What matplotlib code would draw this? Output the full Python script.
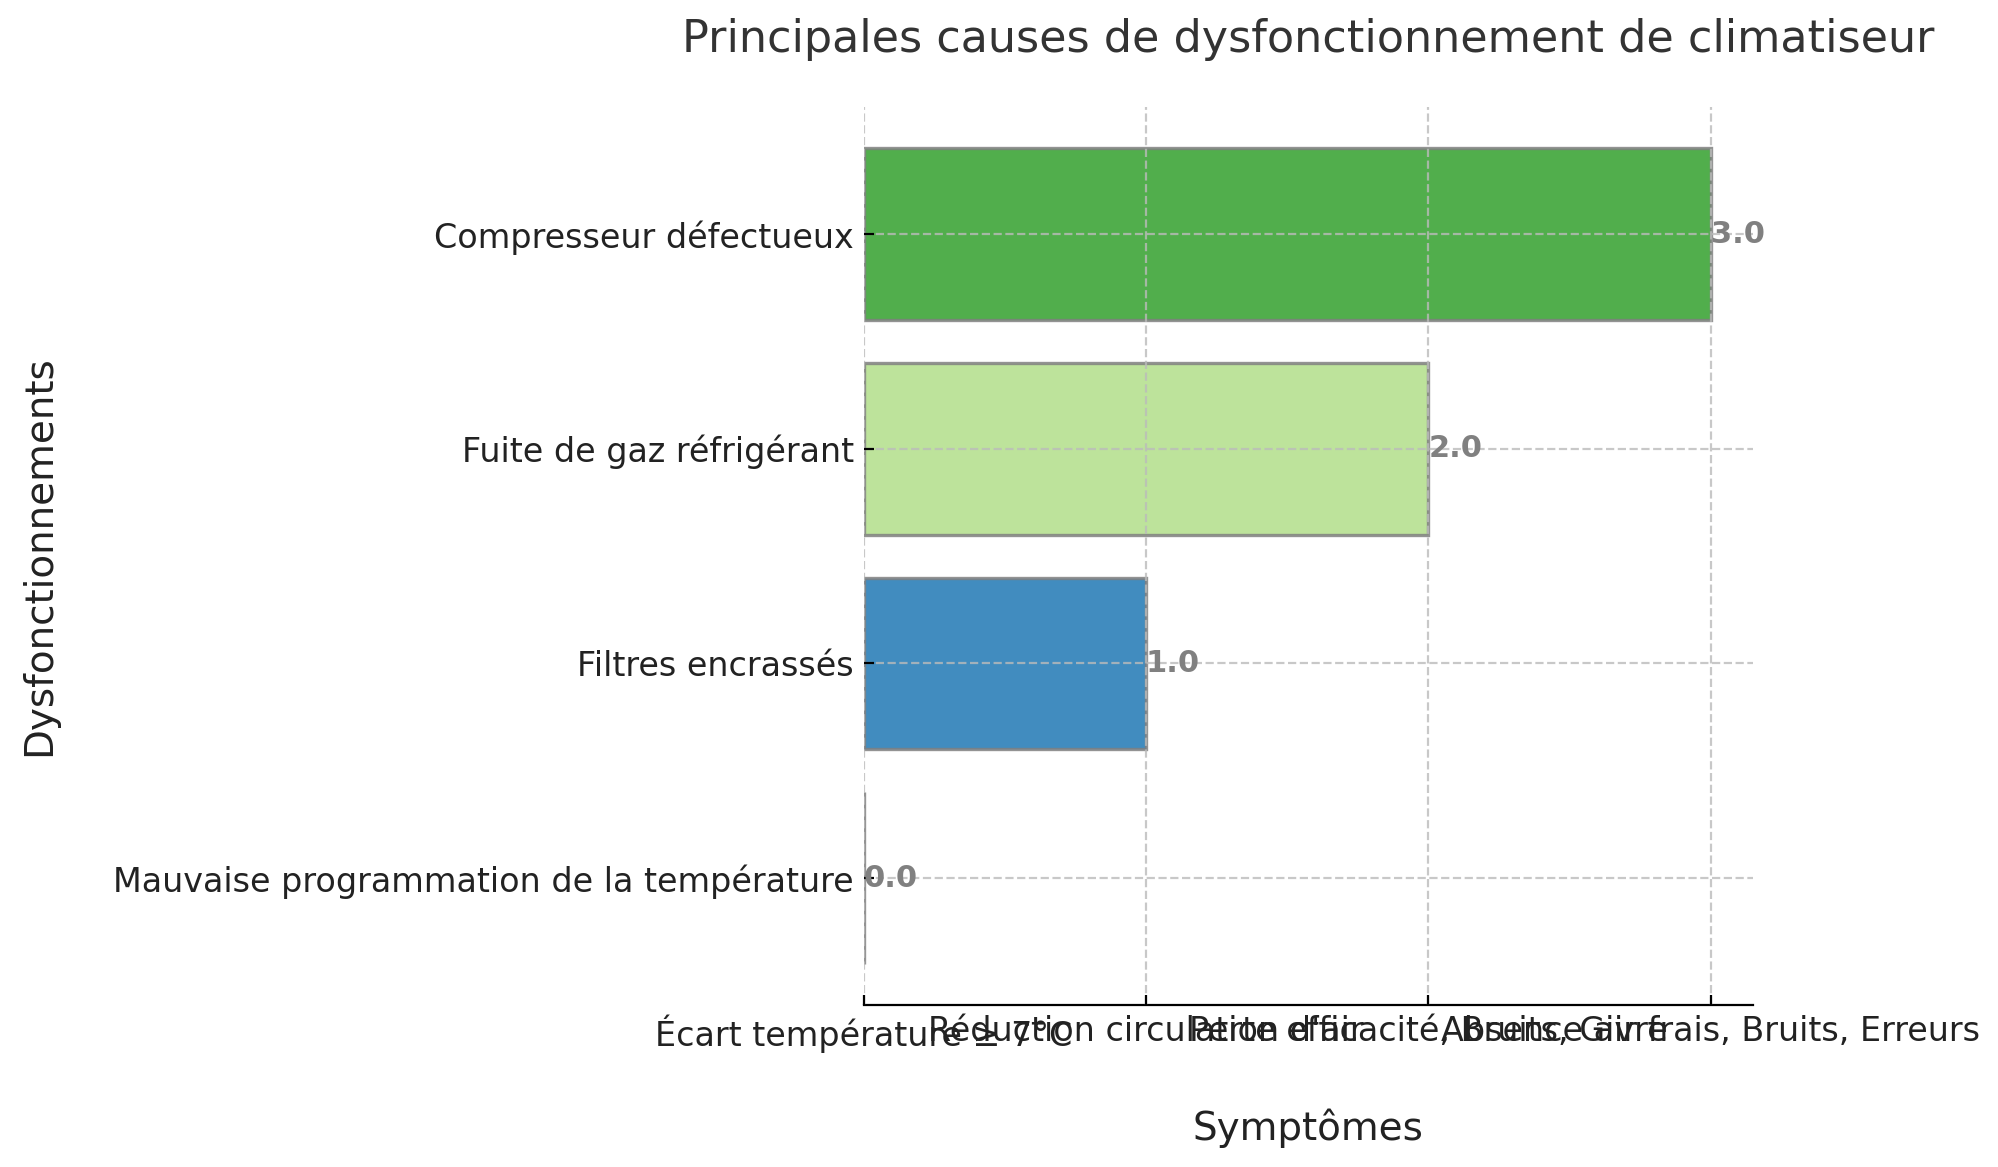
import matplotlib.pyplot as plt

causes = [
    "Mauvaise programmation de la température",
    "Filtres encrassés",
    "Fuite de gaz réfrigérant",
    "Compresseur défectueux",
]
valeurs = [0.0, 1.0, 2.0, 3.0]
symptomes = [
    "Écart température ≥ 7°C",
    "Réduction circulation d'air",
    "Perte efficacité, Bruits, Givre",
    "Absence air frais, Bruits, Erreurs",
]

couleurs = plt.cm.Paired.colors[:4]

fig, ax = plt.subplots(figsize=(9.995, 5.835), dpi=200)
fig.subplots_adjust(left=0.432, right=0.877, top=0.908, bottom=0.139)

bars = ax.barh(causes, valeurs, color=couleurs, alpha=0.85,
               edgecolor='grey', linewidth=1.2)
for b, v in zip(bars, valeurs):
    ax.text(v, b.get_y() + b.get_height() / 2, f"{v:.1f}",
            va='center', ha='left', fontsize=11, fontweight='bold', color='grey')

ax.set_xticks(range(len(symptomes)))
ax.set_xticklabels(symptomes, fontsize=12, color='#222222')
ax.tick_params(axis='both', direction='in')
ax.tick_params(axis='y', labelsize=12, labelcolor='#222222')
ax.set_xlabel('Symptômes', fontsize=14, labelpad=20, color='#222222')
ax.set_ylabel('Dysfonctionnements', fontsize=14, labelpad=20, color='#222222')
ax.set_title('Principales causes de dysfonctionnement de climatiseur',
             fontsize=16, pad=20, color='#333333')

ax.grid(True, linestyle='--', color='#bbbbbb', alpha=0.8, linewidth=0.8)
ax.set_axisbelow(False)
for s in ['top', 'right', 'left']:
    ax.spines[s].set_visible(False)

fig.savefig('out.png', dpi=200)
